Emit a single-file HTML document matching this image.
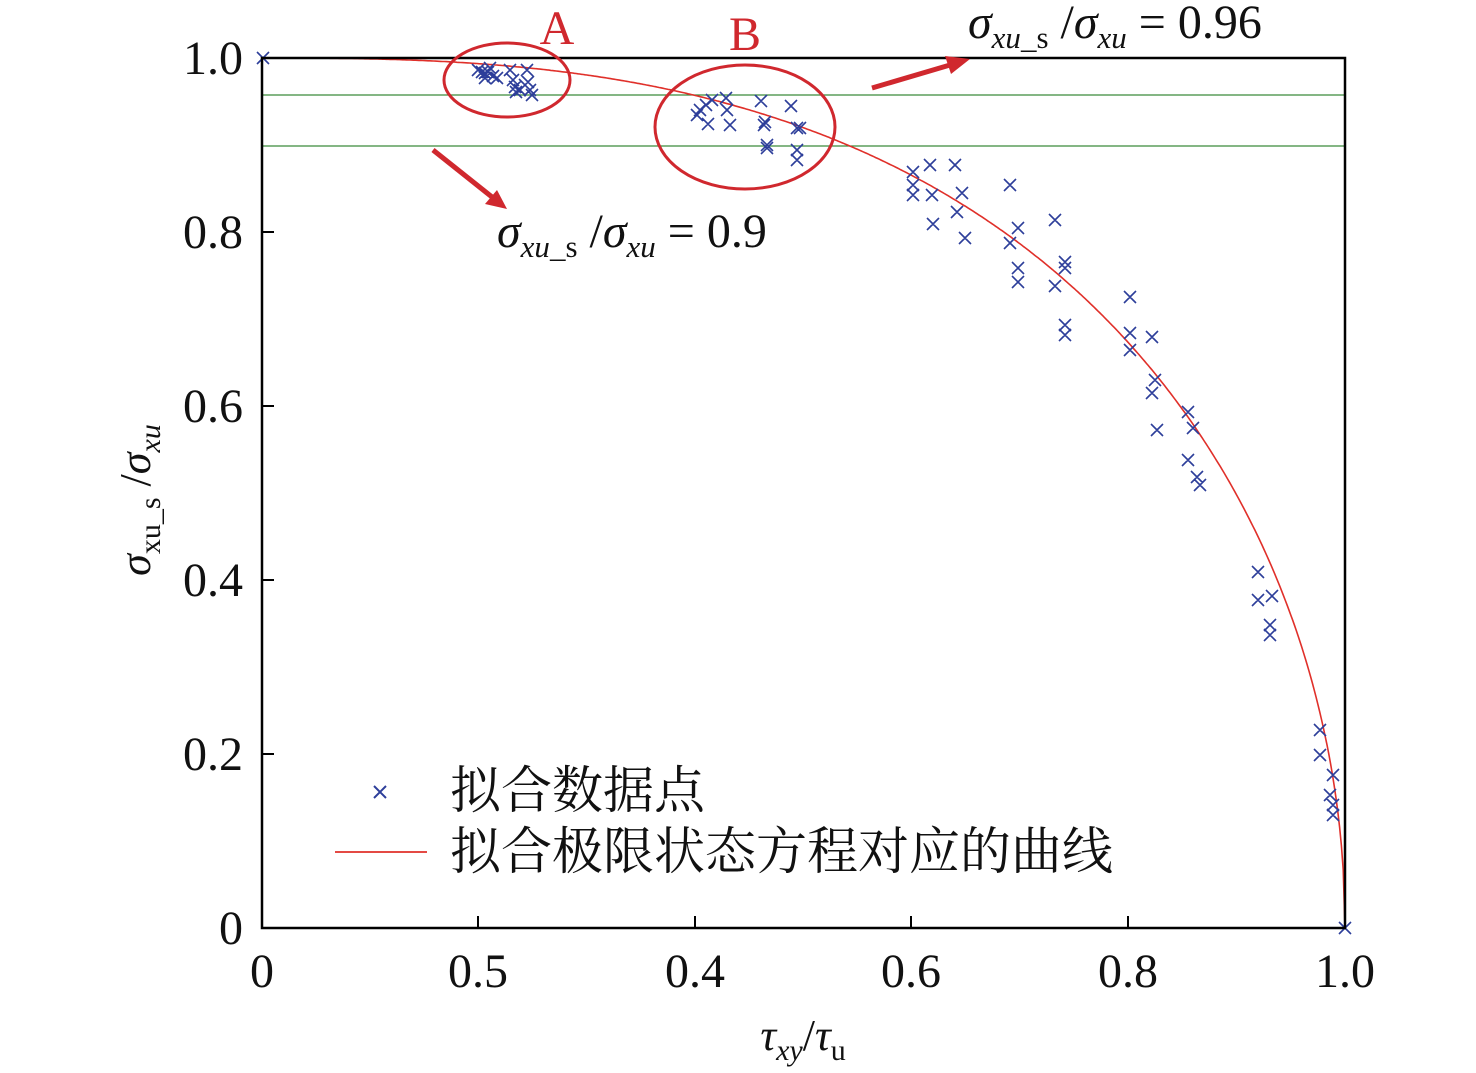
<!DOCTYPE html>
<html><head><meta charset="utf-8"><style>
html,body{margin:0;padding:0;background:#fff;}
svg{display:block;}
text{font-family:"Liberation Serif","Noto Serif CJK SC",serif;}
</style></head><body>
<svg id="s" width="1476" height="1073" viewBox="0 0 1476 1073" xmlns="http://www.w3.org/2000/svg">
<line x1="262" y1="95" x2="1345" y2="95" stroke="#3a8a3a" stroke-width="1.3"/>
<line x1="262" y1="146" x2="1345" y2="146" stroke="#3a8a3a" stroke-width="1.3"/>
<path id="curve" fill="none" stroke="#e0302a" stroke-width="1.6"/>
<path id="pts" fill="none" stroke="#2d3e9a" stroke-width="1.6"/>
<rect x="262" y="58" width="1083" height="870" fill="none" stroke="#000" stroke-width="2.5"/>
<g stroke="#000" stroke-width="2">
<line x1="478" y1="928" x2="478" y2="916"/><line x1="695" y1="928" x2="695" y2="916"/><line x1="911" y1="928" x2="911" y2="916"/><line x1="1128" y1="928" x2="1128" y2="916"/>
<line x1="262" y1="232" x2="274" y2="232"/><line x1="262" y1="406" x2="274" y2="406"/><line x1="262" y1="580" x2="274" y2="580"/><line x1="262" y1="754" x2="274" y2="754"/>
</g>
<g font-size="48" fill="#111" text-anchor="middle">
<text x="262" y="987">0</text><text x="478" y="987">0.5</text><text x="695" y="987">0.4</text><text x="911" y="987">0.6</text><text x="1128" y="987">0.8</text><text x="1345" y="987">1.0</text>
</g>
<g font-size="48" fill="#111" text-anchor="end">
<text x="243" y="74">1.0</text><text x="243" y="248">0.8</text><text x="243" y="422">0.6</text><text x="243" y="596">0.4</text><text x="243" y="770">0.2</text><text x="243" y="944">0</text>
</g>
<text x="803" y="1050" font-size="44" text-anchor="middle" fill="#111"><tspan font-style="italic">τ</tspan><tspan font-style="italic" font-size="30" dy="10">xy</tspan><tspan dy="-10">/</tspan><tspan font-style="italic">τ</tspan><tspan font-size="30" dy="10">u</tspan></text>
<text transform="translate(150,500) rotate(-90)" font-size="44" text-anchor="middle" fill="#111"><tspan font-style="italic">σ</tspan><tspan font-size="30" dy="10">xu_s</tspan><tspan dy="-10"> /</tspan><tspan font-style="italic">σ</tspan><tspan font-style="italic" font-size="30" dy="10">xu</tspan></text>
<text x="968" y="38" font-size="48" fill="#111"><tspan font-style="italic">σ</tspan><tspan font-style="italic" font-size="31" dy="10">xu</tspan><tspan font-size="31">_s</tspan><tspan dy="-10"> /</tspan><tspan font-style="italic">σ</tspan><tspan font-style="italic" font-size="31" dy="10">xu</tspan><tspan dy="-10"> = 0.96</tspan></text>
<text x="497" y="247" font-size="48" fill="#111"><tspan font-style="italic">σ</tspan><tspan font-style="italic" font-size="31" dy="10">xu</tspan><tspan font-size="31">_s</tspan><tspan dy="-10"> /</tspan><tspan font-style="italic">σ</tspan><tspan font-style="italic" font-size="31" dy="10">xu</tspan><tspan dy="-10"> = 0.9</tspan></text>
<g stroke="#d0282e" stroke-width="3" fill="none">
<ellipse cx="507" cy="80" rx="63" ry="37"/>
<ellipse cx="745" cy="127" rx="90" ry="62"/>
</g>
<g stroke="#d0282e" stroke-width="5" fill="#d0282e">
<line x1="872" y1="88" x2="950" y2="65"/><polygon points="970,59 945,56 951,74" stroke="none"/>
<line x1="433" y1="150" x2="492" y2="197"/><polygon points="507,209 485,204 497,190" stroke="none"/>
</g>
<text x="557" y="44" font-size="48" fill="#d0282e" text-anchor="middle">A</text>
<text x="745" y="50" font-size="48" fill="#d0282e" text-anchor="middle">B</text>
<path d="M374 786 l12 12 m0 -12 l-12 12" stroke="#2d3e9a" stroke-width="2"/>
<line x1="335" y1="852" x2="427" y2="852" stroke="#e0302a" stroke-width="1.8"/>
<text x="450" y="808" font-size="51" fill="#111">拟合数据点</text>
<text x="450" y="869" font-size="51" fill="#111">拟合极限状态方程对应的曲线</text>
</svg>
<script>
var d="";for(var i=0;i<=600;i++){var x=i/600;var y=Math.sqrt(Math.max(0,1-Math.pow(x,2.7)));d+=(i?"L":"M")+(262+x*1083).toFixed(1)+" "+(928-y*870).toFixed(1);}
document.getElementById("curve").setAttribute("d",d);
var P=[[263,58],[1345,928],[478,70],[482,72],[485,73],[490,68],[493,76],[497,78],[485,78],[488,72],[510,70],[513,80],[515,87],[516,92],[527,70],[528,82],[530,90],[532,95],[520,90],[525,85],
[700,110],[697,115],[706,105],[708,124],[712,100],[726,98],[727,110],[730,125],[761,101],[764,125],[765,122],[767,145],[767,148],[791,106],[797,128],[797,150],[797,160],[800,128],
[913,172],[913,185],[913,195],[930,165],[932,195],[933,224],[955,165],[962,193],[957,212],[965,238],[1010,185],[1018,228],[1010,243],[1018,268],[1018,282],[1055,220],[1055,286],[1065,262],[1065,268],[1065,325],[1065,335],[1130,297],[1130,333],[1130,350],[1152,337],[1155,380],[1152,393],[1157,430],[1188,412],[1193,428],[1188,460],[1197,477],[1200,485],[1258,572],[1258,600],[1272,596],[1270,625],[1270,635],[1320,730],[1320,755],[1333,775],[1330,795],[1333,805],[1333,815]];
var s="";P.forEach(function(p){s+="M"+(p[0]-6)+" "+(p[1]-6)+"l12 12m0 -12l-12 12";});
document.getElementById("pts").setAttribute("d",s);
</script>
</body></html>
